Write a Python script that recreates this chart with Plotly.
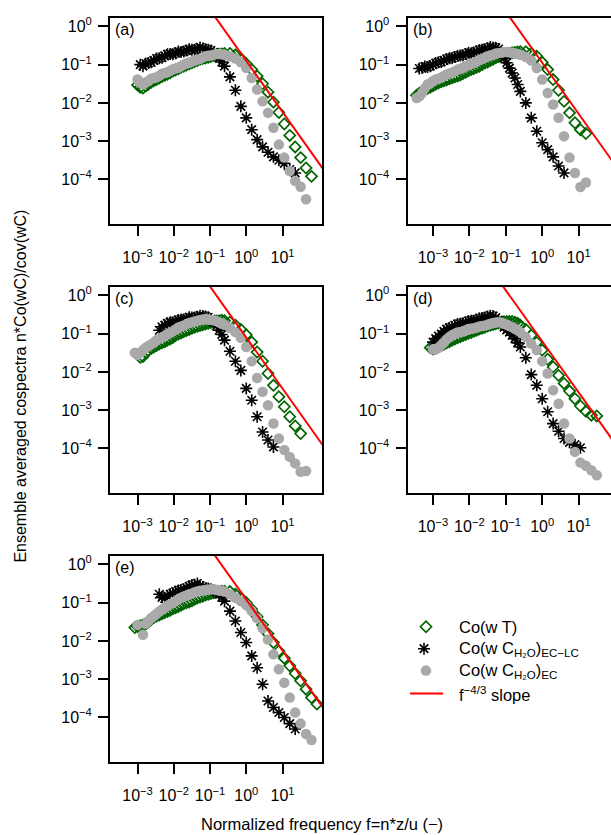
import plotly.graph_objects as go

# ---------------- data (log10 values) ----------------
LOG_F = [-3.45, -3.30, -3.15, -3.00, -2.85, -2.70, -2.55, -2.40, -2.25, -2.10,
         -1.95, -1.80, -1.65, -1.50, -1.35, -1.20, -1.05, -0.90, -0.75, -0.60,
         -0.45, -0.30, -0.15, 0.00, 0.15, 0.30, 0.45, 0.60, 0.75, 0.90,
         1.05, 1.20, 1.35, 1.50, 1.65, 1.80, 1.95]
# extra readings in the dense low-frequency part of each band
LOG_F_MID = [-3.375, -3.225, -3.075, -2.925, -2.775, -2.625, -2.475, -2.325,
             -2.175, -2.025, -1.875, -1.725, -1.575, -1.425, -1.275, -1.125,
             -0.975, -0.825, -0.675]

N = None
# panel (a)
T_A = [N, N, N, -1.53, -1.61, -1.51, -1.42, -1.35, -1.28, -1.21,
       -1.14, -1.07, -1.01, -0.95, -0.89, -0.84, -0.81, -0.76, -0.73, -0.71,
       -0.71, -0.75, -0.84, -0.98, -1.13, -1.30, -1.50, -1.72, -1.98, -2.25,
       -2.55, -2.85, -3.15, -3.43, -3.70, -3.92, N]
LC_A = [N, N, N, N, -1.04, -0.96, -0.89, -0.83, -0.77, -0.72,
        -0.70, -0.67, -0.63, -0.61, -0.59, -0.58, -0.61, -0.68, -0.83, -1.04,
        -1.32, -1.67, -2.09, -2.39, -2.70, -2.96, -3.15, -3.29, -3.41, -3.50,
        -3.58, -3.74, -3.83, N, N, N, N]
EC_A = [N, N, N, -1.39, -1.52, -1.43, -1.35, -1.29, -1.22, -1.16,
        -1.10, -1.04, -0.97, -0.92, -0.87, -0.81, -0.77, -0.74, -0.72, -0.74,
        -0.78, -0.84, -0.94, -1.09, -1.35, -1.65, -1.96, -2.26, -2.65, -3.09,
        -3.43, -3.78, -4.04, -4.19, -4.52, N, N]
T_A_MID = [N, N, N, -1.59, -1.56, -1.46, -1.39, -1.31, -1.25, -1.17,
           -1.11, -1.04, -0.98, -0.92, -0.86, -0.83, -0.79, -0.74, -0.72]
LC_A_MID = [N, N, N, -1.00, -0.97, -0.94, -0.84, -0.82, -0.73, -0.73,
            -0.66, -0.66, -0.60, -0.61, -0.55, -0.60, -0.63, -0.74, -0.93]
EC_A_MID = [N, N, N, -1.47, -1.46, -1.37, -1.33, -1.24, -1.20, -1.12,
            -1.08, -1.00, -0.95, -0.89, -0.85, -0.78, -0.76, -0.72, -0.73]
# panel (b)
T_B = [-1.80, -1.70, -1.62, -1.55, -1.48, -1.42, -1.37, -1.32, -1.27, -1.20,
       -1.13, -1.07, -1.00, -0.93, -0.86, -0.79, -0.74, -0.71, -0.68, -0.66,
       -0.66, -0.70, -0.78, -0.94, -1.13, -1.39, -1.67, -1.96, -2.26, -2.52,
       -2.70, -2.80, N, N, N, N, N]
LC_B = [N, -1.09, -1.06, -1.00, -0.94, -0.89, -0.83, -0.80, -0.76, -0.72,
        -0.70, -0.65, -0.61, -0.57, -0.55, -0.59, -0.83, -1.09, -1.35, -1.70,
        -2.00, -2.39, -2.74, -3.04, -3.22, -3.41, -3.65, -3.83, N, N,
        N, N, N, N, N, N, N]
EC_B = [-1.87, -1.74, -1.52, -1.43, -1.37, -1.30, -1.23, -1.17, -1.11, -1.04,
        -0.98, -0.92, -0.85, -0.78, -0.74, -0.70, -0.67, -0.68, -0.70, -0.74,
        -0.80, -0.89, -1.09, -1.39, -1.74, -2.04, -2.39, -2.87, -3.43, -3.83,
        -4.20, -4.08, N, N, N, N, N]
T_B_MID = [-1.75, -1.66, -1.59, -1.51, -1.45, -1.40, -1.34, -1.30, -1.23, -1.16,
           -1.10, -1.04, -0.96, -0.89, -0.82, -0.76, -0.72, -0.69, -0.67]
LC_B_MID = [-1.10, -1.05, -1.04, -0.96, -0.93, -0.85, -0.83, -0.77, -0.76, -0.69,
            -0.69, -0.62, -0.60, -0.54, -0.56, -0.68, -0.95, -1.22, -1.52]
EC_B_MID = [-1.83, -1.62, -1.49, -1.39, -1.34, -1.26, -1.21, -1.13, -1.08, -1.01,
            -0.95, -0.88, -0.82, -0.76, -0.71, -0.69, -0.67, -0.69, -0.72]
# panel (c)
T_C = [N, N, N, N, -1.60, -1.44, -1.35, -1.27, -1.21, -1.14,
       -1.05, -0.98, -0.92, -0.86, -0.81, -0.77, -0.73, -0.69, -0.66, -0.66,
       -0.70, -0.78, -0.89, -1.03, -1.22, -1.48, -1.72, -2.04, -2.35, -2.65,
       -2.91, -3.17, -3.41, -3.61, N, N, N]
LC_C = [N, N, N, N, N, N, N, -0.91, -0.78, -0.70,
        -0.68, -0.63, -0.61, -0.58, -0.56, -0.54, -0.57, -0.70, -0.91, -1.17,
        -1.46, -1.72, -1.96, -2.43, -2.74, -3.17, -3.57, -3.78, -3.96, N,
        N, N, N, N, N, N, N]
EC_C = [N, N, N, -1.55, -1.43, -1.32, -1.23, -1.13, -1.06, -0.98,
        -0.89, -0.81, -0.75, -0.70, -0.66, -0.63, -0.63, -0.65, -0.70, -0.77,
        -0.85, -0.96, -1.11, -1.35, -1.72, -2.16, -2.52, -2.87, -3.35, -3.74,
        -4.04, -4.22, -4.39, -4.61, -4.59, N, N]
T_C_MID = [N, N, N, -1.62, -1.50, -1.39, -1.31, -1.24, -1.17, -1.10,
           -1.01, -0.95, -0.89, -0.83, -0.79, -0.75, -0.71, -0.67, -0.65]
LC_C_MID = [N, N, N, N, N, N, N, -0.82, -0.73, -0.71,
            -0.64, -0.63, -0.57, -0.58, -0.53, -0.55, -0.62, -0.80, -1.02]
EC_C_MID = [N, N, -1.50, -1.50, -1.37, -1.28, -1.17, -1.10, -1.01, -0.94,
            -0.84, -0.79, -0.72, -0.68, -0.64, -0.62, -0.64, -0.67, -0.74]
# panel (d)
T_D = [N, N, N, -1.40, -1.35, -1.28, -1.21, -1.14, -1.08, -1.02,
       -0.97, -0.91, -0.86, -0.80, -0.76, -0.72, -0.69, -0.68, -0.70, -0.78,
       -0.89, -1.04, -1.23, -1.43, -1.67, -1.87, -2.09, -2.30, -2.50, -2.70,
       -2.89, -3.03, -3.13, -3.15, N, N, N]
LC_D = [N, N, N, -1.22, -1.06, -0.94, -0.85, -0.78, -0.74, -0.70,
        -0.66, -0.63, -0.59, -0.55, -0.54, -0.65, -0.83, -0.96, -1.13, -1.35,
        -1.63, -2.07, -2.35, -2.70, -3.04, -3.35, -3.55, -3.74, -3.84, -3.90,
        -3.98, N, N, N, N, N, N]
EC_D = [N, N, N, -1.41, -1.37, -1.23, -1.09, -1.00, -0.96, -0.91,
        -0.87, -0.84, -0.80, -0.77, -0.72, -0.70, -0.74, -0.80, -0.87, -0.96,
        -1.09, -1.26, -1.43, -1.72, -2.04, -2.48, -2.83, -3.35, -3.74, -4.09,
        -4.37, -4.45, -4.57, -4.70, N, N, N]
T_D_MID = [N, N, -1.37, -1.38, -1.31, -1.24, -1.17, -1.11, -1.05, -0.99,
           -0.94, -0.88, -0.83, -0.78, -0.74, -0.70, -0.68, -0.68, -0.73]
LC_D_MID = [N, N, N, -1.13, -1.01, -0.88, -0.83, -0.75, -0.73, -0.67,
            -0.66, -0.60, -0.58, -0.53, -0.58, -0.74, -0.90, -1.04, -1.24]
EC_D_MID = [N, N, N, -1.40, -1.30, -1.15, -1.04, -0.97, -0.94, -0.88,
            -0.86, -0.81, -0.79, -0.74, -0.71, -0.71, -0.77, -0.83, -0.91]
# panel (e)
T_E = [N, N, N, -1.62, -1.58, -1.51, -1.39, -1.32, -1.26, -1.20,
       -1.13, -1.07, -1.00, -0.95, -0.88, -0.83, -0.78, -0.74, -0.71, -0.70,
       -0.71, -0.78, -0.87, -1.00, -1.17, -1.37, -1.58, -1.81, -2.04, -2.26,
       -2.45, -2.65, -2.85, -3.04, -3.26, -3.48, -3.65]
LC_E = [N, N, N, N, N, N, N, -0.78, -0.89, -0.78,
        -0.71, -0.67, -0.61, -0.54, -0.50, -0.59, -0.63, -0.68, -0.78, -0.96,
        -1.22, -1.48, -1.78, -2.04, -2.39, -2.70, -3.13, -3.57, -3.74, -3.87,
        -4.00, -4.16, -4.30, N, N, N, N]
EC_E = [N, N, N, -1.58, -1.84, -1.48, -1.35, -1.23, -1.13, -1.04,
        -0.96, -0.87, -0.81, -0.76, -0.71, -0.68, -0.66, -0.65, -0.68, -0.71,
        -0.78, -0.87, -0.96, -1.06, -1.22, -1.41, -1.67, -1.96, -2.35, -2.74,
        -3.09, -3.48, -3.87, -4.16, -4.43, -4.59, N]
T_E_MID = [N, N, -1.65, -1.60, -1.56, -1.44, -1.35, -1.29, -1.23, -1.16,
           -1.10, -1.03, -0.98, -0.91, -0.85, -0.80, -0.76, -0.72, -0.70]
LC_E_MID = [N, N, N, N, N, N, N, -0.86, -0.82, -0.75,
            -0.68, -0.65, -0.57, -0.53, -0.55, -0.62, -0.65, -0.72, -0.86]
EC_E_MID = [N, N, N, N, -1.55, -1.40, -1.29, -1.18, -1.08, -1.00,
            -0.91, -0.84, -0.78, -0.73, -0.69, -0.67, -0.65, -0.66, -0.69]

PANELS = [("(a)", (T_A, T_A_MID), (LC_A, LC_A_MID), (EC_A, EC_A_MID)),
          ("(b)", (T_B, T_B_MID), (LC_B, LC_B_MID), (EC_B, EC_B_MID)),
          ("(c)", (T_C, T_C_MID), (LC_C, LC_C_MID), (EC_C, EC_C_MID)),
          ("(d)", (T_D, T_D_MID), (LC_D, LC_D_MID), (EC_D, EC_D_MID)),
          ("(e)", (T_E, T_E_MID), (LC_E, LC_E_MID), (EC_E, EC_E_MID))]
# log10 of the f^-4/3 line value at f = 1, per panel
SLOPE_LOG_INTERCEPT = [-0.90, -0.95, -1.10, -1.20, -0.92]

X_TICKS = [-3, -2, -1, 0, 1]
X_TICK_TEXT = ["10<sup>−3</sup>", "10<sup>−2</sup>", "10<sup>−1</sup>",
               "10<sup>0</sup>", "10<sup>1</sup>"]
Y_TICKS = [0, -1, -2, -3, -4]
Y_TICK_TEXT = ["10<sup>0</sup>", "10<sup>−1</sup>", "10<sup>−2</sup>",
               "10<sup>−3</sup>", "10<sup>−4</sup>"]

LEGEND_NAMES = ["Co(w T)",
                "Co(w C<sub>H₂O</sub>)<sub>EC−LC</sub>",
                "Co(w C<sub>H₂O</sub>)<sub>EC</sub>",
                "f<sup>−4/3</sup> slope"]

# ---------------- layout helpers ----------------
W, H = 611, 835
FONT = "Liberation Sans, Arial, sans-serif"
GREEN, GRAY, RED = "#006400", "#A9A9A9", "#FF0000"
DIAMOND = dict(symbol="diamond-open", size=8.5, color=GREEN,
               line=dict(color=GREEN, width=1.7))
STAR = dict(symbol="asterisk-open", size=10, color="black",
            line=dict(color="black", width=1.6))
DOT = dict(symbol="circle", size=10.5, color=GRAY, line=dict(width=0))

def fx(p):
    return p / W

def fy(p):
    return 1 - p / H

COLS = [(110, 322, [-3.76, 2.09]), (407.5, 611, [-3.70, 1.89])]
ROWS = [(15, 222), (285, 492), (555, 762)]
Y_RANGE = [-5.17, 0.22]

fig = go.Figure()
layout = dict(width=W, height=H, margin=dict(l=0, r=0, t=0, b=0),
              plot_bgcolor="rgba(0,0,0,0)", paper_bgcolor="white",
              showlegend=False, font=dict(family=FONT, size=16, color="black"))
annotations = []


def pts(pair):
    main, mid = pair
    xs, ys = [], []
    for grid, vals in ((LOG_F, main), (LOG_F_MID, mid)):
        for f, v in zip(grid, vals):
            if v is not None:
                xs.append(10 ** f)
                ys.append(10 ** v)
    return xs, ys


for i, (label, t_vals, lc_vals, ec_vals) in enumerate(PANELS):
    r, c = divmod(i, 2)
    x0, x1, xr = COLS[c]
    y0, y1 = ROWS[r]
    sfx = "" if i == 0 else str(i + 1)
    xa, ya = "x" + sfx, "y" + sfx
    layout["xaxis" + sfx] = dict(
        domain=[fx(x0), fx(x1)], range=xr, type="log", anchor=ya,
        showline=True, linewidth=2, linecolor="black", mirror=True,
        ticks="outside", ticklen=10, tickwidth=2, tickcolor="black",
        tickvals=[10 ** v for v in X_TICKS], ticktext=X_TICK_TEXT,
        tickfont=dict(size=16), ticklabelstandoff=8,
        showgrid=False, zeroline=False)
    layout["yaxis" + sfx] = dict(
        domain=[fy(y1), fy(y0)], range=Y_RANGE, type="log", anchor=xa,
        showline=True, linewidth=2, linecolor="black", mirror=(c == 0),
        ticks="outside", ticklen=10, tickwidth=2, tickcolor="black",
        tickvals=[10 ** v for v in Y_TICKS], ticktext=Y_TICK_TEXT,
        tickfont=dict(size=16), ticklabelstandoff=3,
        showgrid=False, zeroline=False)

    xs, ys = pts(t_vals)
    fig.add_trace(go.Scatter(x=xs, y=ys, mode="markers", xaxis=xa, yaxis=ya,
                             marker=DIAMOND))
    xs, ys = pts(lc_vals)
    fig.add_trace(go.Scatter(x=xs, y=ys, mode="markers", xaxis=xa, yaxis=ya,
                             marker=STAR))
    xs, ys = pts(ec_vals)
    fig.add_trace(go.Scatter(x=xs, y=ys, mode="markers", xaxis=xa, yaxis=ya,
                             marker=DOT))
    a = SLOPE_LOG_INTERCEPT[i]
    lx = [1e-4, 1e3]
    fig.add_trace(go.Scatter(x=lx, y=[10 ** a * v ** (-4.0 / 3.0) for v in lx],
                             mode="lines", xaxis=xa, yaxis=ya,
                             line=dict(color=RED, width=2)))
    annotations.append(dict(text=label, x=fx(x0 + 3), y=fy(y0 + 1), xref="paper",
                            yref="paper", xanchor="left", yanchor="top",
                            showarrow=False, font=dict(size=16)))

# legend keys drawn in a small pixel-coordinate axis in the empty slot
LX0, LX1, LY0, LY1 = 395, 611, 605, 715
layout["xaxis6"] = dict(domain=[fx(LX0), fx(LX1)], range=[LX0, LX1],
                        visible=False, anchor="y6", fixedrange=True)
layout["yaxis6"] = dict(domain=[fy(LY1), fy(LY0)], range=[LY1, LY0],
                        visible=False, anchor="x6", fixedrange=True)
LEG_Y = [626, 648, 670, 693]
LEG_MX = 426
fig.add_trace(go.Scatter(x=[LEG_MX], y=[LEG_Y[0]], mode="markers", xaxis="x6", yaxis="y6",
                         marker=DIAMOND))
fig.add_trace(go.Scatter(x=[LEG_MX - 2], y=[LEG_Y[1]], mode="markers", xaxis="x6", yaxis="y6",
                         marker=STAR))
fig.add_trace(go.Scatter(x=[LEG_MX], y=[LEG_Y[2]], mode="markers", xaxis="x6", yaxis="y6",
                         marker=DOT))
fig.add_trace(go.Scatter(x=[410, 443], y=[LEG_Y[3], LEG_Y[3]], mode="lines",
                         xaxis="x6", yaxis="y6", line=dict(color=RED, width=2)))
for name, yy in zip(LEGEND_NAMES, LEG_Y):
    annotations.append(dict(text=name, x=fx(457), y=fy(yy), xref="paper", yref="paper",
                            xanchor="left", yanchor="middle", showarrow=False,
                            font=dict(size=16.5)))

annotations.append(dict(text="Ensemble averaged cospectra n*Co(wC)/cov(wC)",
                        x=fx(21), y=fy(385), xref="paper", yref="paper",
                        textangle=-90, xanchor="center", yanchor="middle",
                        showarrow=False, font=dict(size=16)))
annotations.append(dict(text="Normalized frequency f=n*z/u (−)",
                        x=fx(322), y=fy(824), xref="paper", yref="paper",
                        xanchor="center", yanchor="middle",
                        showarrow=False, font=dict(size=16.5)))

layout["annotations"] = annotations
fig.update_layout(**layout)
fig.write_html("out.html")
